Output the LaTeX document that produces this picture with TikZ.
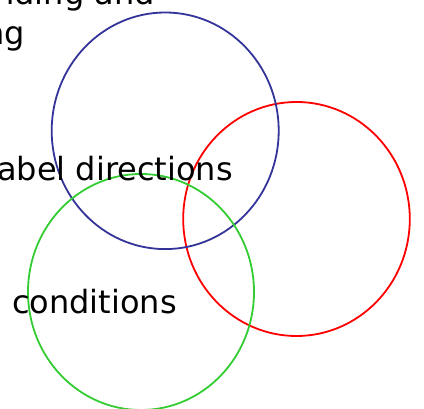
\documentclass[tikz,border=0pt]{standalone}
\usepackage{fontspec}
\setmainfont{DejaVu Sans}
\usepackage{xcolor}
\usetikzlibrary{calc, positioning}
\definecolor{setblue}{RGB}{51,51,153}
\definecolor{setred}{RGB}{255,0,0}
\definecolor{setgreen}{RGB}{51,204,51}
\tikzset{
  ring/.style={line width=1.8pt},
  lbl/.style={inner sep=0pt, font=\fontsize{32}{40}\selectfont}
}

\begin{document}
\begin{tikzpicture}[x=1pt, y=1pt]
      \useasboundingbox (0,0) rectangle (424,409);
      \clip (0,0) rectangle (424,409);
      % centres %
      \coordinate (cb) at (165.2,278.2);
      \coordinate (cr) at (296.5,190);
      \coordinate (cg) at (141,117);
      % rings %
      \draw[ring, setred] (cr) ellipse [x radius=113.3, y radius=117];
      \draw[ring, setblue] (cb) ellipse [x radius=113.5, y radius=118.3];
      \draw[ring, setgreen] (cg) ellipse [x radius=113, y radius=118];
      % labels %
      \node[lbl, anchor=base east] (t1) at (155,404) {nding and};
      \node[lbl, anchor=base east] (t2) at (25,364) {ng};
      \node[lbl, anchor=base east] (t3) at (233,228) {abel directions};
      \node[lbl, anchor=base west] (t4) at (12,95) {conditions};
\end{tikzpicture}
\end{document}
